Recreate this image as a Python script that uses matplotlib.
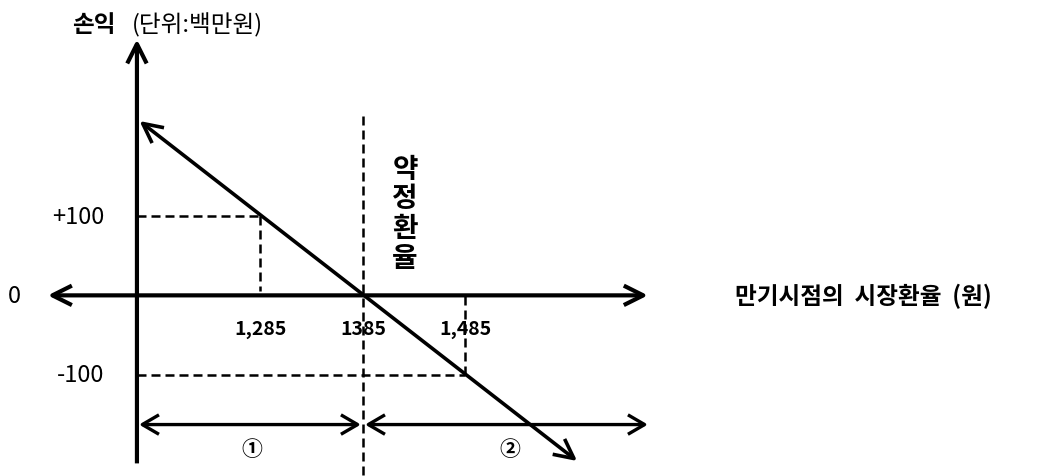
import matplotlib
matplotlib.use("Agg")
import matplotlib.pyplot as plt

plt.rcParams['font.family'] = ['Noto Sans CJK KR', 'DejaVu Sans']

# ---- data ----
strike = 1385
rate_ticks = [1285, 1385, 1485]
rate_labels = ['1,285', '1385', '1,485']
pl_levels = [100, -100]
pl_labels = ['+100', '-100']
payoff_x = [1167, 1594]
payoff_y = [220, -209]
region_labels = ['①', '②']
region_label_x = [1277, 1528]

# ---- layout ----
X0, X1 = 1030.9, 2046.5
Y0, Y1 = -227.9, 373.9
yaxis_x = 1164.5
yaxis_bottom, yaxis_top = -212, 323
xaxis_left, xaxis_right = 1077.5, 1663
range_y = -163
range_left, range_right = 1166.5, 1663

fig = plt.figure(figsize=(10.41, 4.77), dpi=100)
ax = fig.add_axes([0, 0, 1, 1])
ax.set_xlim(X0, X1)
ax.set_ylim(Y0, Y1)
ax.axis('off')

def arrow(p_from, p_to, style='->', lw=3.0, hl=1.4, hw=0.7):
    ax.annotate('', xy=p_to, xytext=p_from,
                arrowprops=dict(arrowstyle=f'{style},head_length={hl},head_width={hw}',
                                lw=lw, color='black', shrinkA=0, shrinkB=0,
                                mutation_scale=10, capstyle='butt'))

dash = (0, (3.6, 2.0))
dlw = 1.8

# y axis
arrow((yaxis_x, yaxis_bottom), (yaxis_x, yaxis_top), lw=3.0)
# x axis (both directions)
arrow((xaxis_right, 0), (xaxis_left, 0), style='<->', lw=3.0)

# strike dashed vertical
ax.plot([strike, strike], [226, Y0], color='black', lw=dlw, ls=dash, zorder=5)

# dashed guides for +100 / -100
ax.plot([yaxis_x, rate_ticks[0]], [pl_levels[0], pl_levels[0]], color='black', lw=dlw, ls=dash)
ax.plot([rate_ticks[0], rate_ticks[0]], [pl_levels[0], 6], color='black', lw=dlw, ls=dash)
ax.plot([yaxis_x, rate_ticks[2]], [pl_levels[1], pl_levels[1]], color='black', lw=dlw, ls=dash)
ax.plot([rate_ticks[2], rate_ticks[2]], [-1, pl_levels[1]], color='black', lw=dlw, ls=dash)

# payoff line with arrows at both ends
arrow((payoff_x[0], payoff_y[0]), (payoff_x[1], payoff_y[1]), style='<->', lw=2.6)

# range arrows
arrow((range_left, range_y), (strike - 2, range_y), style='<->', lw=2.4, hl=1.2, hw=0.7)
arrow((strike + 2, range_y), (range_right, range_y), style='<->', lw=2.4, hl=1.2, hw=0.7)

# tick labels
for x, lab in zip(rate_ticks, rate_labels):
    ax.text(x, -42, lab, ha='center', va='center', fontsize=14, fontweight='bold', zorder=3)
ax.text(1045, 0, '0', ha='center', va='center', fontsize=17)
for y, lab in zip(pl_levels, pl_labels):
    ax.text(1133, y, lab, ha='right', va='center', fontsize=17)

# region labels
for x, lab in zip(region_label_x, region_labels):
    ax.text(x, -193, lab, ha='center', va='center', fontsize=15, fontweight='bold')

# vertical label
for i, ch in enumerate('약정환율'):
    ax.text(1426, 160 - i * 37.5, ch, ha='center', va='center', fontsize=20, fontweight='bold')

# axis titles
ax.text(1748, 0, '만기시점의  시장환율  (원)', ha='left', va='center', fontsize=17, fontweight='bold')
ax.text(1101, 342, '손익', ha='left', va='center', fontsize=17, fontweight='bold')
ax.text(1160, 342, '(단위:백만원)', ha='left', va='center', fontsize=17)

fig.savefig('out.png', dpi=100)
